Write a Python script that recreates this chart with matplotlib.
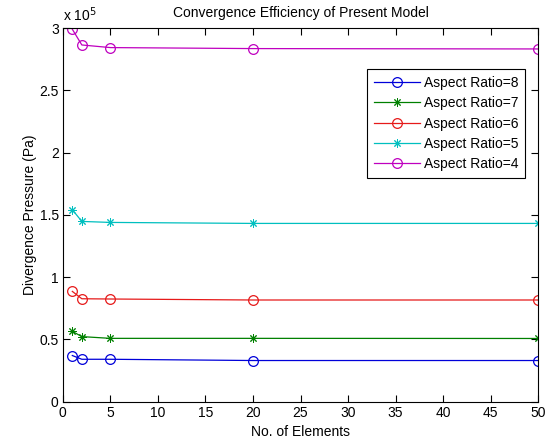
import numpy as np
import matplotlib
matplotlib.use("Agg")
import matplotlib.pyplot as plt
from matplotlib.ticker import FuncFormatter

plt.rcParams['font.family'] = ['Liberation Sans', 'DejaVu Sans']
plt.rcParams['font.size'] = 10

# number of elements used in each run
elements = [1, 2, 5, 20, 50]

# divergence pressure (Pa) for each aspect ratio
ar8 = [37000, 34000, 34000, 33000, 33000]
ar7 = [56400, 52200, 50800, 50800, 50700]
ar6 = [88500, 82600, 82400, 81600, 81600]
ar5 = [154100, 144700, 143900, 143100, 143100]
ar4 = [299000, 286400, 284300, 283500, 283200]

series = [
    ("Aspect Ratio=8", ar8, (0, 0, 0.85), 'o'),
    ("Aspect Ratio=7", ar7, (0, 0.5, 0), (8, 2, 0)),
    ("Aspect Ratio=6", ar6, (0.9, 0.1, 0.1), 'o'),
    ("Aspect Ratio=5", ar5, (0, 0.75, 0.75), (8, 2, 0)),
    ("Aspect Ratio=4", ar4, (0.75, 0, 0.75), 'o'),
]

fig = plt.figure(figsize=(5.56, 4.45), dpi=100)
ax = fig.add_axes([0.113, 0.0975, 0.855, 0.8395])

for name, vals, col, mk in series:
    if mk == 'o':
        ax.plot(elements, vals, color=col, lw=0.9, marker='o', ms=7,
                mfc='none', mec=col, mew=0.9, label=name)
    else:
        ax.plot(elements, vals, color=col, lw=0.9, marker=mk, ms=6,
                mec=col, mew=0.7, label=name)

ax.set_xlim(0, 50)
ax.set_ylim(0, 300000)
ax.set_xticks(np.arange(0, 51, 5))
ax.set_yticks(np.arange(0, 300001, 50000))
ax.yaxis.set_major_formatter(FuncFormatter(lambda v, p: '%g' % (v / 1e5)))
ax.tick_params(direction='in', top=True, right=True, length=5, width=0.8,
               labelsize=10, pad=3)
for s in ax.spines.values():
    s.set_linewidth(0.8)

ax.text(0.0, 1.012, r'x 10$^5$', transform=ax.transAxes, fontsize=10,
        ha='left', va='bottom')
ax.set_title("Convergence Efficiency of Present Model", fontsize=10, pad=8)
ax.set_xlabel("No. of Elements", labelpad=4)
ax.set_ylabel("Divergence Pressure (Pa)", labelpad=2)

leg = ax.legend(loc='upper right', bbox_to_anchor=(0.973, 0.89),
                borderaxespad=0, fancybox=False, framealpha=1,
                edgecolor='black', handlelength=3.3, labelspacing=0.45,
                borderpad=0.5, handletextpad=0.3)
leg.get_frame().set_linewidth(0.8)

fig.savefig("out.png", dpi=100, facecolor='white')
